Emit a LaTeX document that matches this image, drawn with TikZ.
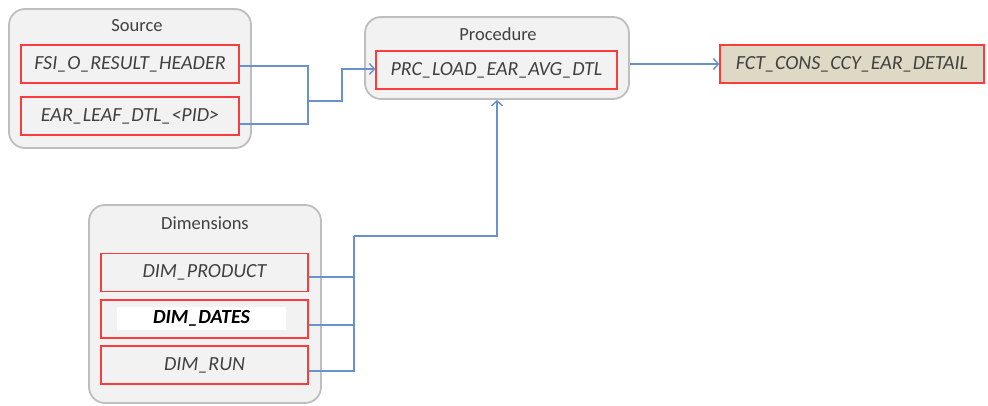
\documentclass[tikz,border=0pt]{standalone}
\usepackage{fontspec}
\setmainfont{Carlito}
\usetikzlibrary{arrows.meta,positioning,calc}

\definecolor{grpfill}{RGB}{242,242,242}
\definecolor{grpline}{RGB}{190,190,190}
\definecolor{tblred}{RGB}{250,60,60}
\definecolor{tbltxt}{RGB}{64,64,64}
\definecolor{linkblue}{RGB}{105,145,205}
\definecolor{facttan}{RGB}{221,217,196}

\begin{document}
\begin{tikzpicture}[x=1pt,y=-1pt,
    grp/.style={draw=grpline, fill=grpfill, line width=1.8pt, rounded corners=16pt, inner sep=0pt},
    grptitle/.style={text=tbltxt, font=\fontsize{18.5}{21}\selectfont, inner sep=0pt},
    tbl/.style={draw=tblred, fill=grpfill, line width=1.4pt, inner sep=0pt,
      minimum height=38pt, text=tbltxt, font=\fontsize{20}{23}\selectfont\itshape},
    link/.style={draw=linkblue, line width=1.5pt},
    arr/.style={link, -{Straight Barb[length=5pt,width=11pt,line width=1.4pt]}}]
    \useasboundingbox (0,0) rectangle (988,406);

    % Source group
    \node[grp, minimum width=242pt, minimum height=139pt] (srcgrp) at (130,78.5) {};
    \node[grptitle] (srctitle) at (137,26) {Source};
    \node[tbl, minimum width=218pt] (fsi) at (130,64) {FSI\_O\_RESULT\_HEADER};
    \node[tbl, minimum width=218pt] (ear) at (130,116) {EAR\_LEAF\_DTL\_<PID>};

    % Procedure group
    \node[grp, minimum width=264pt, minimum height=82pt] (procgrp) at (497,58) {};
    \node[grptitle] (proctitle) at (498,34) {Procedure};
    \node[tbl, minimum width=241pt] (prc) at (496.5,70) {PRC\_LOAD\_EAR\_AVG\_DTL};

    % Target table
    \node[tbl, fill=facttan, minimum width=264pt] (fct) at (852,64) {FCT\_CONS\_CCY\_EAR\_DETAIL};

    % Dimensions group
    \node[grp, minimum width=232pt, minimum height=198pt] (dimgrp) at (205,304) {};
    \node[grptitle] (dimtitle) at (205,223) {Dimensions};
    \node[tbl, minimum width=207pt] (dimprod) at (204.5,272.5) {DIM\_PRODUCT};
    \node[tbl, minimum width=207pt] (dimdates) at (204.5,319) {};
    \node[fill=white, minimum width=169pt, minimum height=23pt, inner sep=0pt,
      font=\fontsize{20}{23}\selectfont\bfseries\itshape] (dateslbl) at (201.5,318.5) {DIM\_DATES};
    \node[tbl, minimum width=207pt] (dimrun) at (204.5,365) {DIM\_RUN};

    % connectors
    \coordinate (srcjoin) at (308,101);
    \coordinate (srcbend) at (342,101);
    \draw[link] ([yshift=-2pt]fsi.east) -| (srcjoin);
    \draw[link] ([yshift=-8pt]ear.east) -| (srcjoin);
    \draw[arr] (srcjoin) -- (srcbend) |- ([yshift=1pt]prc.west);

    \coordinate (dimtop) at (354,236);
    \draw[link] ([yshift=-4.5pt]dimprod.east) -| (dimtop);
    \draw[link] ([yshift=-6pt]dimdates.east) -| (dimtop);
    \draw[link] ([yshift=-6pt]dimrun.east) -| (dimtop);
    \draw[arr] (dimtop) -| (procgrp.south);

    \draw[arr] (procgrp.east |- fct.west) -- (fct.west);
\end{tikzpicture}
\end{document}
